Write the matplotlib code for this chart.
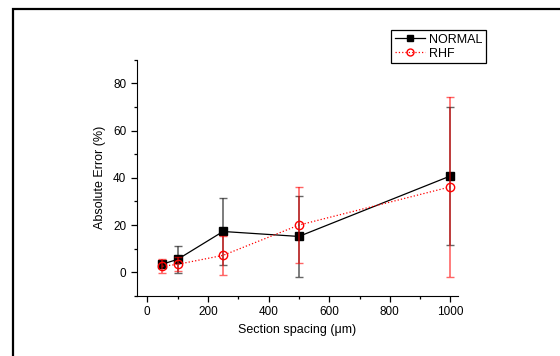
import numpy as np
import matplotlib.pyplot as plt
from matplotlib.patches import Rectangle
from matplotlib.lines import Line2D
from matplotlib.ticker import MultipleLocator

plt.rcParams['font.family'] = ['Liberation Sans', 'DejaVu Sans']

# data
spacing = [50, 100, 250, 500, 1000]
normal = [3.5, 5.5, 17.3, 15.2, 40.8]
normal_err = [1.5, 5.8, 14.0, 17.2, 29.3]
rhf = [2.6, 3.4, 7.2, 20.0, 36.2]
rhf_err = [3.0, 3.0, 8.3, 16.0, 38.0]

fig = plt.figure(figsize=(5.6, 3.56), dpi=100)
ax = fig.add_axes([0.244, 0.1685, 0.574, 0.664])

# outer frame
fig.patches.append(Rectangle((13 / 560, -0.2), 1.2, 1.2 - 9 / 356, transform=fig.transFigure,
                             fill=False, edgecolor='black', linewidth=1.6))

ax.errorbar(spacing, normal, yerr=normal_err, color='black', marker='s', markersize=6,
            linewidth=0.9, ecolor=(0.2, 0.2, 0.2, 0.75), elinewidth=1.2, capsize=3, zorder=3)
ax.errorbar(spacing, rhf, yerr=rhf_err, color='red', marker='o', markersize=6,
            markerfacecolor='none', linewidth=0.9, linestyle=':', ecolor=(1, 0, 0, 0.6),
            elinewidth=1.2, capsize=3, zorder=4)

ax.set_xlim(-35, 1025)
ax.set_ylim(-10, 90)
ax.xaxis.set_major_locator(MultipleLocator(200))
ax.xaxis.set_minor_locator(MultipleLocator(100))
ax.yaxis.set_major_locator(MultipleLocator(20))
ax.yaxis.set_minor_locator(MultipleLocator(10))
ax.tick_params(which='both', direction='out', labelsize=8.5, width=0.9)
ax.tick_params(which='major', length=4)
ax.tick_params(which='minor', length=2)
ax.spines['top'].set_visible(False)
ax.spines['right'].set_visible(False)
ax.set_xlabel('Section spacing (μm)', fontsize=9, labelpad=4)
ax.set_ylabel('Absolute Error (%)', fontsize=9, labelpad=5)

handles = [Line2D([], [], color='black', marker='s', markersize=5, linewidth=0.9),
           Line2D([], [], color='red', marker='o', markersize=5, markerfacecolor='none',
                  linewidth=0.9, linestyle=':')]
leg = fig.legend(handles, ['NORMAL', 'RHF'], loc='upper left',
                 bbox_to_anchor=(391 / 560, 1 - 30 / 356), fontsize=9,
                 fancybox=False, edgecolor='black', framealpha=1, handlelength=2.4,
                 borderpad=0.3, labelspacing=0.15, handletextpad=0.3, borderaxespad=0)
leg.get_frame().set_linewidth(0.9)

fig.savefig('out.png', dpi=100)
